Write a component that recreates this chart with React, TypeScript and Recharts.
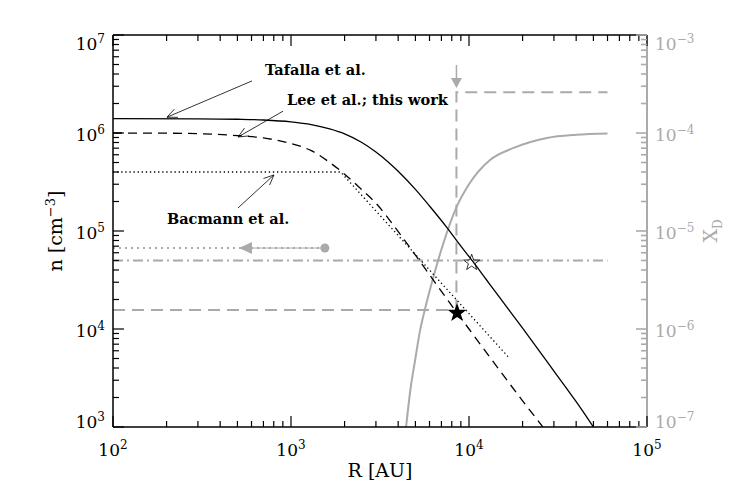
import React from "react";
import { LineChart, Line, XAxis, YAxis, ReferenceDot, ReferenceLine } from "recharts";

const GRAY = "#aaaaaa";
const SERIF = "'DejaVu Serif', serif";

// density profiles n(R), R in AU, n in cm^-3
const TAFALLA_R = [100, 300, 500, 700, 1000, 1300, 1650, 2000, 2500, 3000, 3500, 4000, 5000, 6000, 7500, 9000, 10500, 12500, 15000, 20000, 30000, 40000, 50000];
const TAFALLA_N = [1.4e6, 1.395e6, 1.381e6, 1.358e6, 1.3e6, 1.22e6, 1.1e6, 9.8e5, 8.0e5, 6.4e5, 5.1e5, 4.07e5, 2.66e5, 1.8e5, 1.09e5, 7.0e4, 4.9e4, 3.2e4, 2.05e4, 1.02e4, 3.72e3, 1.81e3, 1.0e3];

const LEE_R = [100, 200, 300, 500, 700, 1000, 1300, 1650, 2000, 2550, 3000, 3900, 5100, 7000, 8570, 10000, 15000, 20000, 26000];
const LEE_N = [1.0e6, 9.95e5, 9.85e5, 9.4e5, 8.9e5, 7.8e5, 6.6e5, 5.0e5, 3.8e5, 2.55e5, 1.92e5, 1.05e5, 5.4e4, 2.42e4, 1.46e4, 1.0e4, 3.7e3, 1.85e3, 1.0e3];

const BACMANN_R = [100, 1900, 16600];
const BACMANN_N = [4.0e5, 4.0e5, 5.2e3];

// deuterium abundance X_D on the right axis
const XD_R = [4430, 4700, 4980, 5300, 5660, 6310, 7180, 8530, 10000, 13120, 17660, 27400, 40000, 60000];
const XD_VAL = [1e-7, 2.5e-7, 4.8e-7, 9.5e-7, 1.6e-6, 3.4e-6, 7.5e-6, 1.77e-5, 3.0e-5, 5.3e-5, 7.0e-5, 8.9e-5, 9.6e-5, 9.9e-5];

// gray guides
const STEP_R = [100, 8500, 8500, 60000];
const STEP_N = [1.56e4, 1.56e4, 2.6e6, 2.6e6];
const DASHDOT_R = [100, 60000];
const DASHDOT_N = [5.0e4, 5.0e4];
const GRAYDOT_R = [100, 1550];
const GRAYDOT_N = [6.7e4, 6.7e4];
const SPAN_R = [517, 1550];
const SPAN_N = [6.7e4, 6.7e4];

const X_MAJOR = [100, 1000, 10000, 100000];
const N_MAJOR = [1e3, 1e4, 1e5, 1e6, 1e7];
const XD_MAJOR = [1e-7, 1e-6, 1e-5, 1e-4, 1e-3];
const MINOR_STEPS = [2, 3, 4, 5, 6, 7, 8, 9];

const zip = (rs: number[], vs: number[]) => rs.map((r, i) => ({ r, v: vs[i] }));

const withMinor = (majors: number[]) =>
  majors.flatMap((m, i) => (i < majors.length - 1 ? [m, ...MINOR_STEPS.map((s) => m * s)] : [m]));

const isMajor = (v: number) => Math.abs(Math.log10(v) - Math.round(Math.log10(v))) < 1e-6;

function expLabel(v: number) {
  const e = Math.round(Math.log10(v));
  return e < 0 ? "\u2212" + Math.abs(e) : String(e);
}

function AxisTick(props: any) {
  const { x, y, payload, side, color, lo, hi } = props;
  const v = payload.value;
  const major = isMajor(v);
  const len = major ? 11 : 6;
  const sw = color === "#000" ? 1.2 : 1.6;
  const font = { fontFamily: SERIF, fontSize: 17, fill: color };
  const sup = (
    <tspan dy={-7} fontSize={12}>
      {expLabel(v)}
    </tspan>
  );
  if (side === "bottom") {
    return (
      <g>
        <line x1={x} y1={y} x2={x} y2={y - len} stroke={color} strokeWidth={sw} />
        {major && (
          <text x={x} y={y + 29} textAnchor="middle" {...font}>
            10{sup}
          </text>
        )}
      </g>
    );
  }
  if (side === "top") {
    return <line x1={x} y1={y} x2={x} y2={y + len} stroke={color} strokeWidth={sw} />;
  }
  const dy = v >= hi * 0.999 ? 15 : v <= lo * 1.001 ? 1 : 8;
  if (side === "left") {
    return (
      <g>
        <line x1={x} y1={y} x2={x + len} y2={y} stroke={color} strokeWidth={sw} />
        {major && (
          <text x={x - 8} y={y + dy} textAnchor="end" {...font}>
            10{sup}
          </text>
        )}
      </g>
    );
  }
  return (
    <g>
      <line x1={x} y1={y} x2={x - len} y2={y} stroke={color} strokeWidth={sw} />
      {major && (
        <text x={x + 8} y={y + dy} textAnchor="start" {...font}>
          10{sup}
        </text>
      )}
    </g>
  );
}

function starPath(cx: number, cy: number, R: number) {
  const r = R * 0.4;
  const pts: string[] = [];
  for (let i = 0; i < 10; i++) {
    const a = -Math.PI / 2 + (i * Math.PI) / 5;
    const rad = i % 2 === 0 ? R : r;
    pts.push(`${cx + rad * Math.cos(a)},${cy + rad * Math.sin(a)}`);
  }
  return "M" + pts.join("L") + "Z";
}

function PointerShape(props: any) {
  const { x1, y1, x2, y2 } = props;
  const ang = Math.atan2(y2 - y1, x2 - x1);
  const h = 11;
  const spread = 0.42;
  const ax = x2 - h * Math.cos(ang - spread);
  const ay = y2 - h * Math.sin(ang - spread);
  const bx = x2 - h * Math.cos(ang + spread);
  const by = y2 - h * Math.sin(ang + spread);
  return (
    <g stroke="#000" strokeWidth={0.8} fill="none">
      <line x1={x1} y1={y1} x2={x2} y2={y2} />
      <polyline points={`${ax},${ay} ${x2},${y2} ${bx},${by}`} />
    </g>
  );
}

const noteText = (label: string) => (p: any) => (
  <text x={p.cx} y={p.cy} fontFamily={SERIF} fontWeight="bold" fontSize={14.5} fill="#000">
    {label}
  </text>
);

export default function App() {
  const xTicks = withMinor(X_MAJOR);
  const nTicks = withMinor(N_MAJOR);
  const xdTicks = withMinor(XD_MAJOR);

  return (
    <div style={{ position: "absolute", left: 0, top: 0, background: "#fff" }}>
      <LineChart width={750} height={500} margin={{ top: 0, right: 0, bottom: 0, left: 0 }}>
        <XAxis
          dataKey="r"
          type="number"
          scale="log"
          domain={[100, 100000]}
          allowDataOverflow
          ticks={xTicks}
          interval={0}
          tickSize={0}
          tickMargin={0}
          height={73}
          axisLine={{ stroke: "#000", strokeWidth: 1.5 }}
          tick={(p: any) => <AxisTick {...p} side="bottom" color="#000" />}
          label={{
            content: (p: any) => (
              <text
                x={p.viewBox.x + p.viewBox.width / 2}
                y={p.viewBox.y + 50}
                textAnchor="middle"
                fontFamily={SERIF}
                fontSize={19}
                fill="#000"
              >
                R [AU]
              </text>
            ),
          }}
        />
        <XAxis
          xAxisId="top"
          orientation="top"
          dataKey="r"
          type="number"
          scale="log"
          domain={[100, 100000]}
          allowDataOverflow
          ticks={xTicks}
          interval={0}
          tickSize={0}
          tickMargin={0}
          height={35}
          axisLine={{ stroke: "#000", strokeWidth: 1.5 }}
          tick={(p: any) => <AxisTick {...p} side="top" color="#000" />}
        />
        <YAxis
          type="number"
          scale="log"
          domain={[1e3, 1e7]}
          allowDataOverflow
          ticks={nTicks}
          interval={0}
          tickSize={0}
          tickMargin={0}
          width={113}
          axisLine={{ stroke: "#000", strokeWidth: 1.5 }}
          tick={(p: any) => <AxisTick {...p} side="left" color="#000" lo={1e3} hi={1e7} />}
          label={{
            content: (p: any) => {
              const cx = p.viewBox.x + 62;
              const cy = p.viewBox.y + p.viewBox.height / 2;
              return (
                <text
                  x={cx}
                  y={cy}
                  transform={`rotate(-90, ${cx}, ${cy})`}
                  textAnchor="middle"
                  fontFamily={SERIF}
                  fontSize={19}
                  fill="#000"
                >
                  n [cm
                  <tspan dy={-7} fontSize={13}>
                    {"\u22123"}
                  </tspan>
                  <tspan dy={7}>]</tspan>
                </text>
              );
            },
          }}
        />
        <YAxis
          yAxisId="xd"
          orientation="right"
          type="number"
          scale="log"
          domain={[1e-7, 1e-3]}
          allowDataOverflow
          ticks={xdTicks}
          interval={0}
          tickSize={0}
          tickMargin={0}
          width={103}
          axisLine={{ stroke: GRAY, strokeWidth: 2 }}
          tick={(p: any) => <AxisTick {...p} side="right" color={GRAY} lo={1e-7} hi={1e-3} />}
          label={{
            content: (p: any) => {
              const cx = p.viewBox.x + 70;
              const cy = p.viewBox.y + p.viewBox.height / 2;
              return (
                <text
                  x={cx}
                  y={cy}
                  transform={`rotate(-90, ${cx}, ${cy})`}
                  textAnchor="middle"
                  fontFamily={SERIF}
                  fontSize={19}
                  fill={GRAY}
                >
                  X
                  <tspan dy={5} fontSize={12}>
                    D
                  </tspan>
                </text>
              );
            },
          }}
        />

        {/* gray guides */}
        <Line data={zip(STEP_R, STEP_N)} dataKey="v" type="linear" stroke={GRAY} strokeWidth={2} strokeDasharray="12 7" dot={false} activeDot={false} isAnimationActive={false} />
        <Line data={zip(DASHDOT_R, DASHDOT_N)} dataKey="v" type="linear" stroke={GRAY} strokeWidth={1.8} strokeDasharray="10 4 2 4" dot={false} activeDot={false} isAnimationActive={false} />
        <Line data={zip(GRAYDOT_R, GRAYDOT_N)} dataKey="v" type="linear" stroke={GRAY} strokeWidth={2} strokeDasharray="2 4" dot={false} activeDot={false} isAnimationActive={false} />
        <Line data={zip(SPAN_R, SPAN_N)} dataKey="v" type="linear" stroke={GRAY} strokeWidth={1} dot={false} activeDot={false} isAnimationActive={false} />
        <Line yAxisId="xd" data={zip(XD_R, XD_VAL)} dataKey="v" type="monotone" stroke={GRAY} strokeWidth={2} dot={false} activeDot={false} isAnimationActive={false} />

        {/* density profiles */}
        <Line data={zip(TAFALLA_R, TAFALLA_N)} dataKey="v" type="monotone" stroke="#000" strokeWidth={1.3} dot={false} activeDot={false} isAnimationActive={false} />
        <Line data={zip(LEE_R, LEE_N)} dataKey="v" type="monotone" stroke="#000" strokeWidth={1.3} strokeDasharray="9 6" dot={false} activeDot={false} isAnimationActive={false} />
        <Line data={zip(BACMANN_R, BACMANN_N)} dataKey="v" type="linear" stroke="#000" strokeWidth={1.3} strokeDasharray="1.3 2.8" dot={false} activeDot={false} isAnimationActive={false} />

        {/* gray markers */}
        <ReferenceDot
          x={517}
          y={6.7e4}
          r={0}
          shape={(p: any) => (
            <path d={`M${p.cx - 1},${p.cy} L${p.cx + 12},${p.cy - 6} L${p.cx + 12},${p.cy + 6} Z`} fill={GRAY} />
          )}
        />
        <ReferenceDot x={1550} y={6.7e4} r={4.5} fill={GRAY} stroke="none" />
        <ReferenceDot
          x={8500}
          y={2.88e6}
          r={0}
          shape={(p: any) => (
            <g>
              <line x1={p.cx} y1={p.cy - 23} x2={p.cx} y2={p.cy - 9} stroke={GRAY} strokeWidth={1.5} />
              <path d={`M${p.cx - 5.5},${p.cy - 10} L${p.cx + 5.5},${p.cy - 10} L${p.cx},${p.cy} Z`} fill={GRAY} />
            </g>
          )}
        />

        {/* stars */}
        <ReferenceDot x={8570} y={1.46e4} r={0} shape={(p: any) => <path d={starPath(p.cx, p.cy, 10)} fill="#000" />} />
        <ReferenceDot
          x={10350}
          y={4.75e4}
          r={0}
          shape={(p: any) => <path d={starPath(p.cx, p.cy, 8.5)} fill="none" stroke="#000" strokeWidth={0.8} />}
        />

        {/* annotations */}
        <ReferenceLine segment={[{ x: 604, y: 3.4e6 }, { x: 201, y: 1.45e6 }]} shape={PointerShape} />
        <ReferenceLine segment={[{ x: 902, y: 1.67e6 }, { x: 504, y: 9.1e5 }]} shape={PointerShape} />
        <ReferenceLine segment={[{ x: 504, y: 1.72e5 }, { x: 802, y: 3.73e5 }]} shape={PointerShape} />
        <ReferenceDot x={714} y={3.91e6} r={0} shape={noteText("Tafalla et al.")} />
        <ReferenceDot x={950} y={1.93e6} r={0} shape={noteText("Lee et al.; this work")} />
        <ReferenceDot x={201} y={1.18e5} r={0} shape={noteText("Bacmann et al.")} />
      </LineChart>
    </div>
  );
}
